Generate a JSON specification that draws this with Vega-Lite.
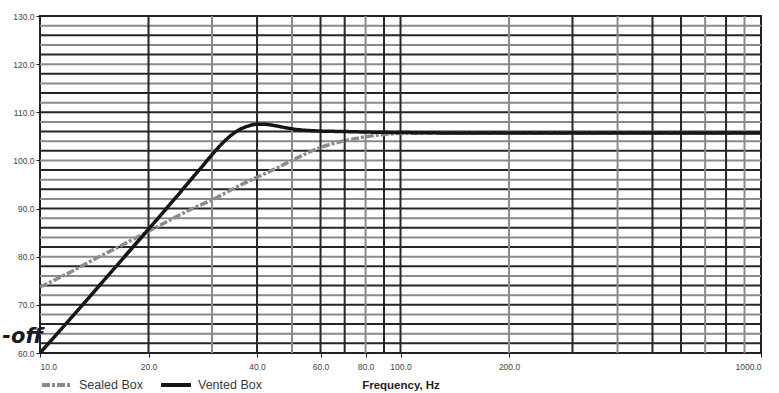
{
  "$schema": "https://vega.github.io/schema/vega-lite/v6.json",
  "width": 721,
  "height": 337,
  "autosize": {"type": "none"},
  "padding": {"left": 40, "top": 16, "right": 18, "bottom": 40},
  "background": "white",
  "config": {
    "font": "Liberation Sans",
    "view": {"stroke": "#222222", "strokeWidth": 2},
    "axis": {"grid": false, "domain": false, "labelFont": "Liberation Sans", "labelFontSize": 8.5, "labelColor": "#444444", "tickColor": "#222222", "tickSize": 4, "tickWidth": 1}
  },
  "datasets": {
    "curves": [
      {"f": 10, "db": 73.7, "series": "Sealed Box"},
      {"f": 11, "db": 75.2, "series": "Sealed Box"},
      {"f": 12, "db": 76.6, "series": "Sealed Box"},
      {"f": 13, "db": 78.0, "series": "Sealed Box"},
      {"f": 14, "db": 79.3, "series": "Sealed Box"},
      {"f": 16, "db": 81.5, "series": "Sealed Box"},
      {"f": 18, "db": 83.5, "series": "Sealed Box"},
      {"f": 20, "db": 85.3, "series": "Sealed Box"},
      {"f": 22, "db": 86.9, "series": "Sealed Box"},
      {"f": 24, "db": 88.4, "series": "Sealed Box"},
      {"f": 26, "db": 89.7, "series": "Sealed Box"},
      {"f": 28, "db": 90.8, "series": "Sealed Box"},
      {"f": 30, "db": 91.8, "series": "Sealed Box"},
      {"f": 33, "db": 93.4, "series": "Sealed Box"},
      {"f": 36, "db": 94.9, "series": "Sealed Box"},
      {"f": 40, "db": 96.5, "series": "Sealed Box"},
      {"f": 45, "db": 98.3, "series": "Sealed Box"},
      {"f": 50, "db": 100.0, "series": "Sealed Box"},
      {"f": 55, "db": 101.5, "series": "Sealed Box"},
      {"f": 60, "db": 102.7, "series": "Sealed Box"},
      {"f": 65, "db": 103.5, "series": "Sealed Box"},
      {"f": 70, "db": 104.1, "series": "Sealed Box"},
      {"f": 80, "db": 104.9, "series": "Sealed Box"},
      {"f": 90, "db": 105.4, "series": "Sealed Box"},
      {"f": 100, "db": 105.6, "series": "Sealed Box"},
      {"f": 150, "db": 105.7, "series": "Sealed Box"},
      {"f": 300, "db": 105.7, "series": "Sealed Box"},
      {"f": 1000, "db": 105.7, "series": "Sealed Box"},
      {"f": 10, "db": 60.0, "series": "Vented Box"},
      {"f": 12, "db": 66.7, "series": "Vented Box"},
      {"f": 14, "db": 72.4, "series": "Vented Box"},
      {"f": 16, "db": 77.4, "series": "Vented Box"},
      {"f": 18, "db": 81.8, "series": "Vented Box"},
      {"f": 20, "db": 85.7, "series": "Vented Box"},
      {"f": 22, "db": 89.3, "series": "Vented Box"},
      {"f": 24, "db": 92.6, "series": "Vented Box"},
      {"f": 26, "db": 95.7, "series": "Vented Box"},
      {"f": 28, "db": 98.5, "series": "Vented Box"},
      {"f": 30, "db": 101.2, "series": "Vented Box"},
      {"f": 32, "db": 103.5, "series": "Vented Box"},
      {"f": 34, "db": 105.3, "series": "Vented Box"},
      {"f": 36, "db": 106.5, "series": "Vented Box"},
      {"f": 38, "db": 107.2, "series": "Vented Box"},
      {"f": 40, "db": 107.5, "series": "Vented Box"},
      {"f": 42, "db": 107.5, "series": "Vented Box"},
      {"f": 45, "db": 107.2, "series": "Vented Box"},
      {"f": 48, "db": 106.8, "series": "Vented Box"},
      {"f": 52, "db": 106.4, "series": "Vented Box"},
      {"f": 56, "db": 106.2, "series": "Vented Box"},
      {"f": 60, "db": 106.1, "series": "Vented Box"},
      {"f": 70, "db": 106.0, "series": "Vented Box"},
      {"f": 80, "db": 105.9, "series": "Vented Box"},
      {"f": 100, "db": 105.8, "series": "Vented Box"},
      {"f": 150, "db": 105.7, "series": "Vented Box"},
      {"f": 300, "db": 105.7, "series": "Vented Box"},
      {"f": 1000, "db": 105.7, "series": "Vented Box"}
    ],
    "vDark": [{"f": 20}, {"f": 40}, {"f": 60}, {"f": 70}, {"f": 90}, {"f": 100}, {"f": 300}, {"f": 500}, {"f": 600}, {"f": 800}],
    "vGray": [{"f": 30}, {"f": 50}, {"f": 80}, {"f": 200}, {"f": 400}, {"f": 700}, {"f": 900}],
    "hDark": [{"db": 62}, {"db": 66}, {"db": 70}, {"db": 74}, {"db": 78}, {"db": 82}, {"db": 86}, {"db": 90}, {"db": 94}, {"db": 98}, {"db": 102}, {"db": 106}, {"db": 110}, {"db": 114}, {"db": 118}, {"db": 122}, {"db": 126}],
    "hGray": [{"db": 64}, {"db": 68}, {"db": 72}, {"db": 76}, {"db": 80}, {"db": 84}, {"db": 88}, {"db": 92}, {"db": 96}, {"db": 100}, {"db": 104}, {"db": 108}, {"db": 112}, {"db": 116}, {"db": 120}, {"db": 124}, {"db": 128}],
    "note": [{"f": 10, "db": 62.0, "label": "-off"}]
  },
  "layer": [
    {
      "data": {"name": "hGray"},
      "mark": {"type": "rule", "color": "#8a8a8a", "strokeWidth": 2},
      "encoding": {
        "y": {"field": "db", "type": "quantitative", "scale": {"type": "linear", "domain": [60, 130], "nice": false, "zero": false}, "title": null, "axis": {"values": [60, 70, 80, 90, 100, 110, 120, 130], "format": ".1f", "labelPadding": 2}}
      }
    },
    {
      "data": {"name": "hDark"},
      "mark": {"type": "rule", "color": "#262626", "strokeWidth": 2},
      "encoding": {
        "y": {"field": "db", "type": "quantitative", "scale": {"type": "linear", "domain": [60, 130], "nice": false, "zero": false}, "title": null, "axis": {"values": [60, 70, 80, 90, 100, 110, 120, 130], "format": ".1f", "labelPadding": 2}}
      }
    },
    {
      "data": {"name": "vGray"},
      "mark": {"type": "rule", "color": "#8a8a8a", "strokeWidth": 2},
      "encoding": {
        "x": {"field": "f", "type": "quantitative", "scale": {"type": "log", "domain": [10, 1000], "nice": false}, "title": "Frequency, Hz", "axis": {"values": [10, 20, 40, 60, 80, 100, 200, 1000], "format": ".1f", "labelPadding": 5, "titleFontSize": 11.5, "titleFontWeight": "bold", "titleColor": "#222222", "titlePadding": 9}}
      }
    },
    {
      "data": {"name": "vDark"},
      "mark": {"type": "rule", "color": "#262626", "strokeWidth": 2},
      "encoding": {
        "x": {"field": "f", "type": "quantitative", "scale": {"type": "log", "domain": [10, 1000], "nice": false}, "title": "Frequency, Hz", "axis": {"values": [10, 20, 40, 60, 80, 100, 200, 1000], "format": ".1f", "labelPadding": 5, "titleFontSize": 11.5, "titleFontWeight": "bold", "titleColor": "#222222", "titlePadding": 9}}
      }
    },
    {
      "data": {"name": "curves"},
      "mark": {"type": "line", "strokeWidth": 3.5, "interpolate": "monotone"},
      "encoding": {
        "x": {"field": "f", "type": "quantitative", "scale": {"type": "log", "domain": [10, 1000], "nice": false}, "title": "Frequency, Hz", "axis": {"values": [10, 20, 40, 60, 80, 100, 200, 1000], "format": ".1f", "labelPadding": 5, "titleFontSize": 11.5, "titleFontWeight": "bold", "titleColor": "#222222", "titlePadding": 9}},
        "y": {"field": "db", "type": "quantitative", "scale": {"type": "linear", "domain": [60, 130], "nice": false, "zero": false}, "title": null, "axis": {"values": [60, 70, 80, 90, 100, 110, 120, 130], "format": ".1f", "labelPadding": 2}},
        "color": {"field": "series", "type": "nominal", "scale": {"domain": ["Sealed Box", "Vented Box"], "range": ["#8c8c8c", "#161616"]}, "legend": {"orient": "none", "legendX": 0, "legendY": 352, "direction": "horizontal", "title": null, "symbolType": "stroke", "symbolSize": 900, "symbolStrokeWidth": 4, "labelFontSize": 12.5, "labelColor": "#3a3a3a", "labelFont": "Liberation Sans", "columnPadding": 10, "labelOffset": 5}},
        "strokeDash": {"field": "series", "type": "nominal", "scale": {"domain": ["Sealed Box", "Vented Box"], "range": [[8, 2, 3, 2], [1, 0]]}, "legend": {"orient": "none", "legendX": 0, "legendY": 352, "direction": "horizontal", "title": null, "symbolType": "stroke", "symbolSize": 900, "symbolStrokeWidth": 4, "labelFontSize": 12.5, "labelColor": "#3a3a3a", "labelFont": "Liberation Sans", "columnPadding": 10, "labelOffset": 5}}
      }
    },
    {
      "data": {"name": "note"},
      "mark": {"type": "text", "align": "right", "baseline": "alphabetic", "dx": 3, "fontSize": 21, "fontWeight": "bold", "fontStyle": "italic", "font": "DejaVu Sans", "color": "#1a1a1a"},
      "encoding": {
        "x": {"field": "f", "type": "quantitative", "scale": {"type": "log", "domain": [10, 1000], "nice": false}, "title": "Frequency, Hz", "axis": {"values": [10, 20, 40, 60, 80, 100, 200, 1000], "format": ".1f", "labelPadding": 5, "titleFontSize": 11.5, "titleFontWeight": "bold", "titleColor": "#222222", "titlePadding": 9}},
        "y": {"field": "db", "type": "quantitative", "scale": {"type": "linear", "domain": [60, 130], "nice": false, "zero": false}, "title": null, "axis": {"values": [60, 70, 80, 90, 100, 110, 120, 130], "format": ".1f", "labelPadding": 2}},
        "text": {"field": "label", "type": "nominal"}
      }
    }
  ]
}
